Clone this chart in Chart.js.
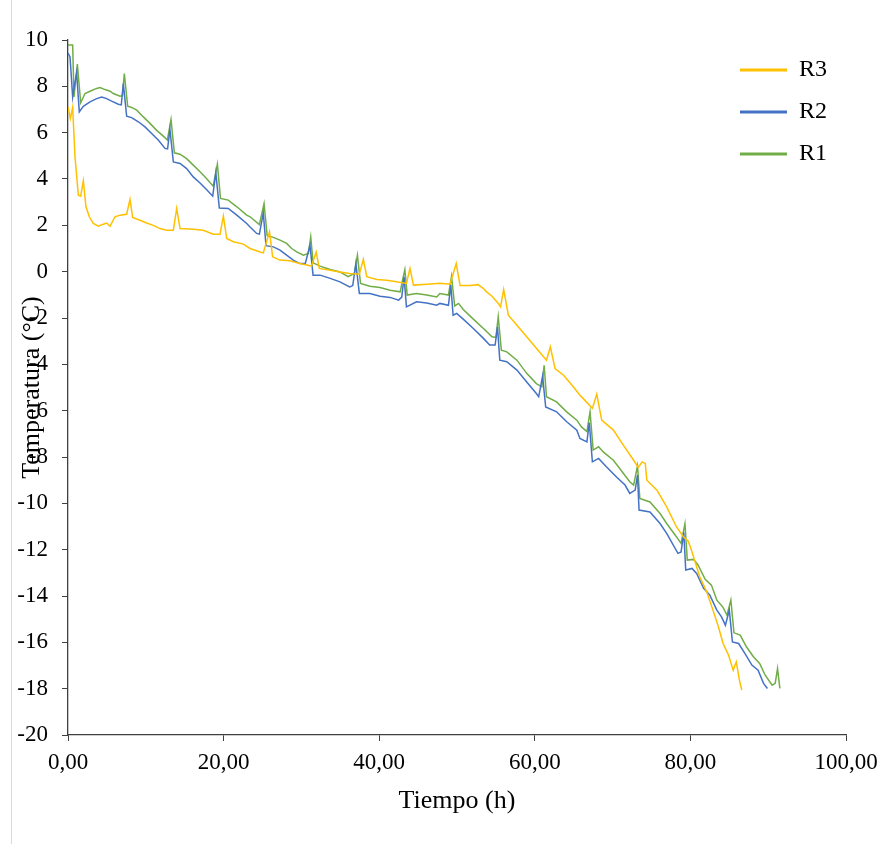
<!DOCTYPE html>
<html>
<head>
<meta charset="utf-8">
<script src="https://cdn.jsdelivr.net/npm/chart.js@4"></script>
<style>
html,body{margin:0;padding:0;background:#fff;}
canvas{display:block;}
</style>
</head>
<body>
<canvas id="c" width="883" height="844"></canvas>
<script>
// ---- data (time in hours, temperature in °C) ----
const seriesNames = ['R3', 'R2', 'R1'];
const seriesColors = ['#FFC000', '#4472C4', '#70AD47'];
const xTicks = [0, 20, 40, 60, 80, 100];
const yTicks = [-20, -18, -16, -14, -12, -10, -8, -6, -4, -2, 0, 2, 4, 6, 8, 10];

const r1Time = [0,0.6,0.77,1.2,1.63,2.19,2.83,3.68,4.11,4.76,5.4,5.83,6.68,7.0,7.24,7.67,8.18,8.83,9.68,10.54,11.4,12.25,12.77,13.24,13.67,14.4,15.25,16.1,16.97,17.8,18.66,19.2,19.6,20.6,21.7,22.97,23.4,24.6,25.2,25.6,26.4,27.25,28.1,28.75,29.4,30.25,30.9,31.2,31.5,32.4,33.7,34.96,36.0,36.8,37.2,37.6,38.8,40.1,41.4,42.7,43.0,43.3,43.6,44.8,46.1,47.4,47.8,48.9,49.3,49.7,50.2,50.8,52.1,53.4,54.5,55.0,55.3,55.7,56.4,57.7,58.96,60.2,60.9,61.2,61.5,62.8,64.1,65.4,66.0,66.7,67.1,67.5,68.2,68.8,70.1,71.4,72.2,72.7,73.2,73.5,74.8,76.1,76.95,78.2,78.8,79.3,79.6,80.4,81.0,81.9,82.7,83.4,84.2,84.7,85.2,85.6,86.4,87.2,88.1,88.9,89.6,90.5,90.9,91.2,91.5];
const r1Temp = [9.78,9.78,7.54,8.96,7.29,7.69,7.79,7.91,7.95,7.86,7.79,7.69,7.57,7.6,8.55,7.14,7.09,6.97,6.68,6.4,6.1,5.85,5.68,6.57,5.13,5.07,4.88,4.6,4.31,4.02,3.69,4.64,3.16,3.09,2.8,2.44,2.37,2.03,2.94,1.55,1.48,1.36,1.22,1.0,0.85,0.71,0.79,1.5,0.38,0.24,0.09,-0.01,-0.22,-0.08,0.71,-0.51,-0.63,-0.68,-0.8,-0.87,-0.37,0.09,-1.01,-0.94,-1.01,-1.09,-0.94,-1.01,-0.2,-1.48,-1.37,-1.63,-2.05,-2.45,-2.81,-2.84,-1.95,-3.39,-3.46,-3.82,-4.39,-4.83,-4.97,-4.04,-5.4,-5.62,-6.05,-6.41,-6.7,-6.9,-6.05,-7.7,-7.56,-7.78,-8.14,-8.71,-9.07,-9.21,-8.39,-9.79,-9.94,-10.44,-10.87,-11.44,-11.73,-10.88,-12.45,-12.42,-12.67,-13.28,-13.53,-14.18,-14.49,-14.83,-14.18,-15.59,-15.69,-16.19,-16.62,-16.91,-17.41,-17.85,-17.77,-17.13,-17.99];

const r2Time = [0,0.26,0.6,0.86,1.11,1.45,1.97,2.83,3.68,4.33,4.97,5.61,6.47,6.85,7.11,7.54,8.18,9.04,9.9,10.75,11.6,12.47,12.8,13.1,13.54,14.4,15.25,16.1,16.97,17.8,18.6,19.0,19.45,20.6,21.7,22.97,23.4,24.25,24.6,25.1,25.45,26.4,27.25,28.1,28.96,29.8,30.5,31.1,31.5,32.4,33.7,34.96,36.2,36.6,37.0,37.45,38.8,40.1,41.4,42.5,42.9,43.2,43.5,44.8,46.1,47.4,47.8,48.9,49.2,49.5,49.96,50.8,52.1,53.4,54.2,54.9,55.2,55.5,56.4,57.7,58.96,60.2,60.5,61.0,61.4,62.8,64.1,65.4,65.8,66.7,67.0,67.4,68.2,69.2,70.5,71.6,72.2,72.9,73.2,73.4,74.8,76.1,76.95,78.4,78.8,79.15,79.4,80.2,80.8,81.7,82.5,83.4,84.0,84.5,85.0,85.4,86.2,87.0,87.9,88.7,89.4,89.9];
const r2Temp = [9.44,9.27,7.54,8.12,8.58,6.9,7.14,7.33,7.47,7.54,7.47,7.36,7.23,7.2,8.12,6.71,6.65,6.47,6.25,5.96,5.68,5.32,5.3,6.14,4.74,4.67,4.45,4.09,3.83,3.55,3.26,4.27,2.75,2.73,2.44,2.08,1.93,1.65,1.62,2.53,1.12,1.07,0.93,0.71,0.5,0.35,0.35,1.14,-0.15,-0.15,-0.29,-0.44,-0.66,-0.6,0.35,-0.94,-0.94,-1.06,-1.11,-1.23,-1.1,-0.22,-1.52,-1.3,-1.35,-1.45,-1.37,-1.45,-0.58,-1.88,-1.8,-2.05,-2.45,-2.88,-3.17,-3.17,-2.38,-3.82,-3.89,-4.25,-4.76,-5.26,-5.4,-4.51,-5.84,-6.05,-6.48,-6.84,-7.2,-7.35,-6.52,-8.21,-8.06,-8.42,-8.86,-9.21,-9.57,-9.43,-8.78,-10.29,-10.37,-10.87,-11.3,-12.16,-12.1,-11.25,-12.88,-12.81,-13.03,-13.67,-13.96,-14.61,-14.9,-15.26,-14.61,-15.98,-16.05,-16.48,-16.98,-17.2,-17.77,-17.99];

const r3Time = [0,0.3,0.6,0.9,1.33,1.63,1.97,2.31,2.74,3.25,3.9,4.54,4.97,5.4,6.04,6.68,7.54,7.97,8.31,9.25,10.1,10.96,11.83,12.68,13.54,13.97,14.4,16.1,17.4,18.66,19.54,19.97,20.4,21.25,22.54,23.4,24.7,25.1,25.9,26.3,27.25,28.5,29.8,31.3,31.9,32.3,33.7,34.96,36.2,37.45,37.96,38.4,39.7,40.96,42.2,43.5,43.96,44.4,46.1,47.8,49.1,49.9,50.4,51.7,52.7,53.4,53.8,54.5,55.3,55.6,56.0,56.6,57.7,58.96,60.2,61.5,62.0,62.6,63.7,64.95,65.8,66.2,67.4,67.96,68.6,70.1,71.4,72.7,73.3,73.8,74.2,74.4,75.7,76.95,78.2,79.1,79.7,80.0,80.6,81.2,82.1,82.9,83.6,84.2,84.9,85.5,85.9,86.3,86.6];
const r3Temp = [7.11,6.61,7.09,4.95,3.3,3.26,3.92,2.8,2.37,2.08,1.96,2.05,2.1,1.96,2.37,2.44,2.48,3.12,2.34,2.22,2.1,2.0,1.86,1.79,1.79,2.73,1.86,1.83,1.79,1.62,1.62,2.4,1.43,1.29,1.19,1.0,0.85,0.81,1.72,0.64,0.5,0.47,0.35,0.24,0.85,0.14,0.06,-0.01,-0.08,-0.11,0.53,-0.22,-0.34,-0.37,-0.44,-0.51,0.14,-0.58,-0.54,-0.5,-0.54,0.35,-0.6,-0.6,-0.56,-0.73,-0.87,-1.06,-1.37,-1.52,-0.77,-1.88,-2.31,-2.81,-3.31,-3.82,-3.24,-4.18,-4.47,-4.97,-5.33,-5.47,-5.9,-5.29,-6.41,-6.84,-7.5,-8.14,-8.45,-8.21,-8.28,-9.0,-9.43,-10.15,-11.01,-11.44,-11.62,-11.88,-12.52,-13.17,-13.82,-14.61,-15.33,-16.05,-16.55,-17.2,-16.84,-17.63,-18.06];

// ---- build ----
const FAMILY = '"Liberation Serif", "Times New Roman", serif';
const toPts = (t, v) => t.map((x, i) => ({x: x, y: v[i]}));
const seriesData = [toPts(r3Time, r3Temp), toPts(r2Time, r2Temp), toPts(r1Time, r1Temp)];

const datasets = seriesNames.map((name, i) => ({
  label: name,
  data: seriesData[i],
  borderColor: seriesColors[i],
  backgroundColor: seriesColors[i],
  borderWidth: 1.5,
  pointRadius: 0,
  tension: 0,
  fill: false
}));

const frameLine = {
  id: 'frameLine',
  beforeDraw(chart) {
    const ctx = chart.ctx;
    ctx.save();
    ctx.strokeStyle = '#d9d9d9';
    ctx.lineWidth = 1;
    ctx.beginPath();
    ctx.moveTo(11.5, 0);
    ctx.lineTo(11.5, chart.height);
    ctx.stroke();
    ctx.restore();
  }
};

const legendPlace = {
  id: 'legendPlace',
  afterLayout(chart) {
    const l = chart.legend;
    if (!l) return;
    const w = l.width, h = l.height;
    l.left = 722; l.right = l.left + w;
    l.top = 40; l.bottom = l.top + h;
  }
};

const axisColor = '#404040';

new Chart(document.getElementById('c'), {
  type: 'line',
  data: { datasets },
  plugins: [frameLine, legendPlace],
  options: {
    responsive: false,
    animation: false,
    devicePixelRatio: 1,
    layout: { padding: { top: 40, right: 37, left: 0, bottom: 0 } },
    plugins: {
      legend: {
        position: 'chartArea',
        align: 'start',
        labels: {
          boxWidth: 47,
          boxHeight: 3,
          padding: 18,
          color: '#000',
          font: { family: FAMILY, size: 24, lineHeight: 1.2 },
          generateLabels(chart) {
            const items = Chart.defaults.plugins.legend.labels.generateLabels(chart);
            items.forEach(it => { it.fillStyle = it.strokeStyle; it.lineWidth = 0; });
            return items;
          }
        }
      },
      tooltip: { enabled: false }
    },
    scales: {
      x: {
        type: 'linear',
        min: 0, max: 100,
        afterBuildTicks(s) { s.ticks = xTicks.map(v => ({value: v})); },
        ticks: {
          stepSize: 20,
          maxRotation: 0,
          padding: 8,
          color: '#000',
          font: { family: FAMILY, size: 23 },
          callback: v => Number(v).toFixed(2).replace('.', ',')
        },
        grid: { display: true, drawOnChartArea: false, drawTicks: true, tickLength: 6, color: axisColor, lineWidth: 1 },
        border: { display: true, color: axisColor, width: 1.3 },
        title: { display: true, text: 'Tiempo (h)', color: '#000', font: { family: FAMILY, size: 26, lineHeight: 1.2 }, padding: { top: 0, bottom: 27 } },
        afterFit(s) { s.height = 109; s.paddingRight = 0; s.paddingLeft = 0; }
      },
      y: {
        type: 'linear',
        min: -20, max: 10,
        afterBuildTicks(s) { s.ticks = yTicks.map(v => ({value: v})); },
        ticks: {
          stepSize: 2,
          padding: 14,
          color: '#000',
          font: { family: FAMILY, size: 23 }
        },
        grid: { display: true, drawOnChartArea: false, drawTicks: true, tickLength: 6, color: axisColor, lineWidth: 1 },
        border: { display: true, color: axisColor, width: 1.3 },
        title: { display: true, text: 'Temperatura (°C)', color: '#000', font: { family: FAMILY, size: 26, lineHeight: 1.2 }, padding: { top: 17, bottom: 0 } },
        afterFit(s) { s.width = 68; s.paddingTop = 0; s.paddingBottom = 0; }
      }
    }
  }
});
</script>
</body>
</html>
